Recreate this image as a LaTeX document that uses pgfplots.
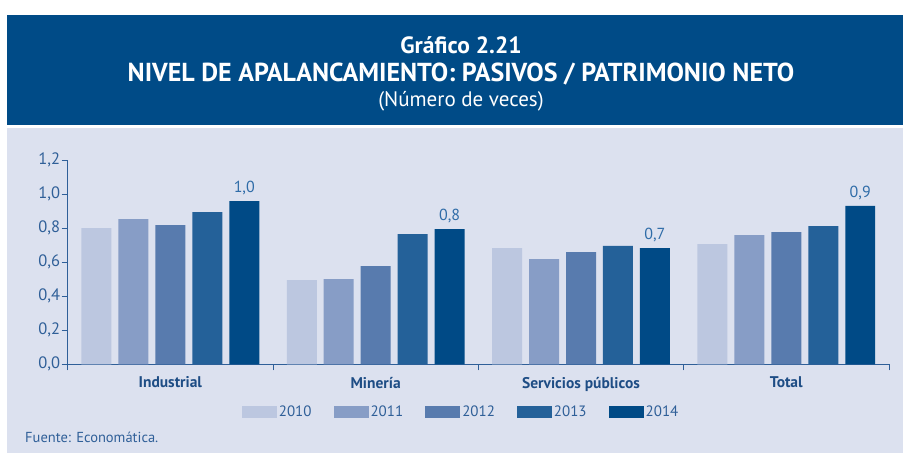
\documentclass[border=0pt]{standalone}
\usepackage{pgfplots}
\pgfplotsset{compat=1.18}
\usepackage{fontspec}
\setmainfont{PT Sans}
\definecolor{hdr}{HTML}{004B87}
\definecolor{panel}{HTML}{DCE1EF}
\definecolor{c2010}{HTML}{BCC7E0}
\definecolor{c2011}{HTML}{879DC6}
\definecolor{c2012}{HTML}{587BAE}
\definecolor{c2013}{HTML}{246199}
\definecolor{c2014}{HTML}{004A86}
\definecolor{axisc}{HTML}{2F5F98}
\definecolor{catc}{HTML}{1E4D85}
\definecolor{lblc}{HTML}{2F6CA8}
\begin{document}
\begin{tikzpicture}
\fill[white] (0pt,0pt) rectangle (903pt,-453pt);
\fill[hdr] (7pt,-15pt) rectangle (903pt,-125pt);
\fill[panel] (7pt,-128pt) rectangle (903pt,-453pt);
\node[white,font=\fontsize{23.5}{26}\selectfont\bfseries] at (461pt,-45pt) {Gráfico 2.21};
\node[white,font=\fontsize{26}{29}\selectfont\bfseries] at (461pt,-74pt) {NIVEL DE APALANCAMIENTO: PASIVOS / PATRIMONIO NETO};
\node[white,font=\fontsize{21}{24}\selectfont] at (461pt,-101pt) {(Número de veces)};
\node[anchor=west,text=axisc,font=\fontsize{14.5}{17}\selectfont,inner sep=0pt] at (25pt,-437pt) {Fuente: Economática.};
\begin{axis}[
  at={(67.7pt,-364.3pt)}, anchor=south west,
  scale only axis, width=821.3pt, height=204.3pt,
  xmin=-0.5, xmax=3.5, ymin=0, ymax=1.2,
  axis x line*=bottom, axis y line*=left,
  x axis line style={-}, y axis line style={-},
  axis line style={axisc, line width=1pt},
  ybar, bar width=0.146,
  ytick={0,0.2,0.4,0.6,0.8,1.0,1.2},
  yticklabel style={text=axisc, font=\fontsize{16.5}{19}\selectfont, xshift=2pt,
    /pgf/number format/.cd, fixed, fixed zerofill, precision=1, use comma, assume math mode=true},
  xtick={-0.5,0.5,1.5,2.5,3.5},
  x tick label as interval,
  xticklabels={Industrial, Minería, Servicios públicos, Total},
  xticklabel style={text=catc, font=\fontsize{15.5}{18}\selectfont\bfseries, yshift=-3pt},
  tick align=outside, major tick length=6pt,
  tick style={axisc, line width=1pt},
  legend columns=5,
  legend style={at={(0.479,-0.2335)}, anchor=center, draw=none, fill=none,
    font=\fontsize{15}{17}\selectfont, text=axisc,
    /tikz/every even column/.append style={column sep=20pt},
    nodes={inner sep=2pt}},
  legend image code/.code={\fill[#1] (0pt,-6pt) rectangle (35pt,6pt);},
]
\addplot[fill=c2010, draw=none, bar shift=-0.36] coordinates {(0,0.800) (1,0.495) (2,0.683) (3,0.706)};
\addplot[fill=c2011, draw=none, bar shift=-0.18] coordinates {(0,0.853) (1,0.501) (2,0.618) (3,0.759)};
\addplot[fill=c2012, draw=none, bar shift=0] coordinates {(0,0.818) (1,0.577) (2,0.659) (3,0.777)};
\addplot[fill=c2013, draw=none, bar shift=0.18] coordinates {(0,0.894) (1,0.765) (2,0.695) (3,0.812)};
\addplot[fill=c2014, draw=none, bar shift=0.36,
  nodes near coords,
  nodes near coords style={text=lblc, font=\fontsize{16}{18}\selectfont, anchor=south, yshift=3pt,
    /pgf/number format/.cd, fixed, fixed zerofill, precision=1, use comma, assume math mode=true}]
  coordinates {(0,0.959) (1,0.794) (2,0.683) (3,0.930)};
\legend{2010,2011,2012,2013,2014}
\end{axis}
\end{tikzpicture}
\end{document}
